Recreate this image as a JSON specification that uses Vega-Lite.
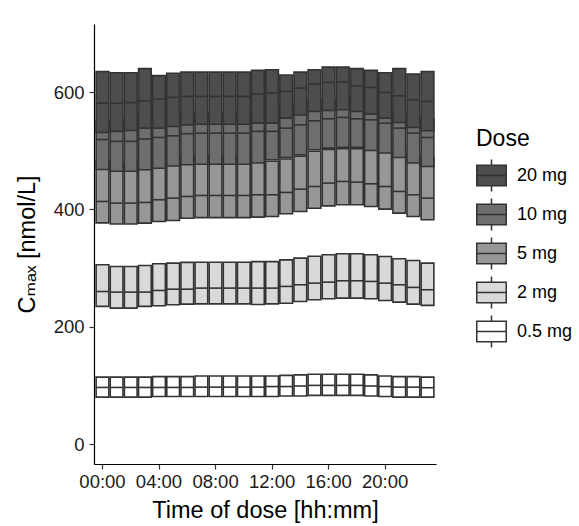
{
  "$schema": "https://vega.github.io/schema/vega-lite/v6.json",
  "autosize": "none",
  "width": 342,
  "height": 440,
  "padding": {"left": 94, "top": 24, "right": 143, "bottom": 62},
  "background": "white",
  "config": {
    "font": "Liberation Sans, Arial, DejaVu Sans, sans-serif",
    "view": {"stroke": null}
  },
  "data": {"values": [
    {"t":"00:00","dose":"0.5 mg","lo":80,"mid":96.5,"hi":114},
    {"t":"01:00","dose":"0.5 mg","lo":80,"mid":96.5,"hi":114},
    {"t":"02:00","dose":"0.5 mg","lo":80,"mid":96.5,"hi":114},
    {"t":"03:00","dose":"0.5 mg","lo":80,"mid":96.5,"hi":114},
    {"t":"04:00","dose":"0.5 mg","lo":81,"mid":96.5,"hi":115},
    {"t":"05:00","dose":"0.5 mg","lo":81,"mid":96.5,"hi":115},
    {"t":"06:00","dose":"0.5 mg","lo":81,"mid":96.5,"hi":115},
    {"t":"07:00","dose":"0.5 mg","lo":81,"mid":97,"hi":116},
    {"t":"08:00","dose":"0.5 mg","lo":81,"mid":97,"hi":116},
    {"t":"09:00","dose":"0.5 mg","lo":81,"mid":97,"hi":116},
    {"t":"10:00","dose":"0.5 mg","lo":81,"mid":97,"hi":116},
    {"t":"11:00","dose":"0.5 mg","lo":81,"mid":97,"hi":116},
    {"t":"12:00","dose":"0.5 mg","lo":81,"mid":98,"hi":116},
    {"t":"13:00","dose":"0.5 mg","lo":82,"mid":98,"hi":117},
    {"t":"14:00","dose":"0.5 mg","lo":82,"mid":99,"hi":118},
    {"t":"15:00","dose":"0.5 mg","lo":83,"mid":100,"hi":119},
    {"t":"16:00","dose":"0.5 mg","lo":83,"mid":100,"hi":119},
    {"t":"17:00","dose":"0.5 mg","lo":83,"mid":100,"hi":119},
    {"t":"18:00","dose":"0.5 mg","lo":83,"mid":100,"hi":119},
    {"t":"19:00","dose":"0.5 mg","lo":82,"mid":99,"hi":118},
    {"t":"20:00","dose":"0.5 mg","lo":81,"mid":98,"hi":116},
    {"t":"21:00","dose":"0.5 mg","lo":80,"mid":97,"hi":115},
    {"t":"22:00","dose":"0.5 mg","lo":80,"mid":97,"hi":115},
    {"t":"23:00","dose":"0.5 mg","lo":80,"mid":96,"hi":114},

    {"t":"00:00","dose":"2 mg","lo":234.6,"mid":260,"hi":305.6},
    {"t":"01:00","dose":"2 mg","lo":231.7,"mid":259,"hi":302.7},
    {"t":"02:00","dose":"2 mg","lo":231.7,"mid":259,"hi":302.7},
    {"t":"03:00","dose":"2 mg","lo":234.6,"mid":259,"hi":304.4},
    {"t":"04:00","dose":"2 mg","lo":235.7,"mid":261.8,"hi":307.3},
    {"t":"05:00","dose":"2 mg","lo":237.4,"mid":264,"hi":308.4},
    {"t":"06:00","dose":"2 mg","lo":238.5,"mid":264,"hi":309.6},
    {"t":"07:00","dose":"2 mg","lo":239,"mid":265.8,"hi":310},
    {"t":"08:00","dose":"2 mg","lo":239,"mid":265.8,"hi":310},
    {"t":"09:00","dose":"2 mg","lo":239,"mid":265.8,"hi":310},
    {"t":"10:00","dose":"2 mg","lo":239,"mid":265.8,"hi":310},
    {"t":"11:00","dose":"2 mg","lo":238,"mid":265.8,"hi":311},
    {"t":"12:00","dose":"2 mg","lo":239,"mid":265.8,"hi":311},
    {"t":"13:00","dose":"2 mg","lo":240,"mid":268.7,"hi":314},
    {"t":"14:00","dose":"2 mg","lo":243,"mid":271.5,"hi":317},
    {"t":"15:00","dose":"2 mg","lo":246,"mid":274.3,"hi":320},
    {"t":"16:00","dose":"2 mg","lo":247.6,"mid":276,"hi":322.6},
    {"t":"17:00","dose":"2 mg","lo":248.8,"mid":278.3,"hi":324.3},
    {"t":"18:00","dose":"2 mg","lo":248.8,"mid":278.3,"hi":324.3},
    {"t":"19:00","dose":"2 mg","lo":247.6,"mid":277.2,"hi":322.6},
    {"t":"20:00","dose":"2 mg","lo":244.8,"mid":274.3,"hi":319.8},
    {"t":"21:00","dose":"2 mg","lo":242,"mid":271.5,"hi":315.8},
    {"t":"22:00","dose":"2 mg","lo":238.5,"mid":267,"hi":313},
    {"t":"23:00","dose":"2 mg","lo":236.3,"mid":263,"hi":308.4},

    {"t":"00:00","dose":"5 mg","lo":377,"mid":413.5,"hi":483},
    {"t":"01:00","dose":"5 mg","lo":375,"mid":410.7,"hi":480},
    {"t":"02:00","dose":"5 mg","lo":375,"mid":410.7,"hi":480},
    {"t":"03:00","dose":"5 mg","lo":376.6,"mid":411.8,"hi":482},
    {"t":"04:00","dose":"5 mg","lo":379.4,"mid":416.4,"hi":485},
    {"t":"05:00","dose":"5 mg","lo":381,"mid":419.2,"hi":489},
    {"t":"06:00","dose":"5 mg","lo":385,"mid":422,"hi":491},
    {"t":"07:00","dose":"5 mg","lo":386,"mid":423.7,"hi":492},
    {"t":"08:00","dose":"5 mg","lo":386,"mid":423.7,"hi":492},
    {"t":"09:00","dose":"5 mg","lo":386,"mid":423.7,"hi":492},
    {"t":"10:00","dose":"5 mg","lo":386,"mid":423.7,"hi":492},
    {"t":"11:00","dose":"5 mg","lo":386.8,"mid":424.9,"hi":494},
    {"t":"12:00","dose":"5 mg","lo":387.9,"mid":424.9,"hi":482},
    {"t":"13:00","dose":"5 mg","lo":392.5,"mid":428.9,"hi":486},
    {"t":"14:00","dose":"5 mg","lo":396.5,"mid":434.5,"hi":490.5},
    {"t":"15:00","dose":"5 mg","lo":402,"mid":439,"hi":499},
    {"t":"16:00","dose":"5 mg","lo":406,"mid":444.8,"hi":502},
    {"t":"17:00","dose":"5 mg","lo":407.8,"mid":447.6,"hi":503.5},
    {"t":"18:00","dose":"5 mg","lo":407.8,"mid":446.5,"hi":503.5},
    {"t":"19:00","dose":"5 mg","lo":405,"mid":443.6,"hi":515},
    {"t":"20:00","dose":"5 mg","lo":400.5,"mid":439,"hi":511},
    {"t":"21:00","dose":"5 mg","lo":393.6,"mid":430.6,"hi":503},
    {"t":"22:00","dose":"5 mg","lo":387.9,"mid":424.9,"hi":494},
    {"t":"23:00","dose":"5 mg","lo":382.3,"mid":419.2,"hi":488},

    {"t":"00:00","dose":"10 mg","lo":468,"mid":519,"hi":551},
    {"t":"01:00","dose":"10 mg","lo":465,"mid":516,"hi":553},
    {"t":"02:00","dose":"10 mg","lo":465,"mid":516,"hi":554},
    {"t":"03:00","dose":"10 mg","lo":467.5,"mid":520,"hi":558},
    {"t":"04:00","dose":"10 mg","lo":470,"mid":522.6,"hi":558},
    {"t":"05:00","dose":"10 mg","lo":474,"mid":525.4,"hi":561},
    {"t":"06:00","dose":"10 mg","lo":476,"mid":529,"hi":564},
    {"t":"07:00","dose":"10 mg","lo":477,"mid":530,"hi":565},
    {"t":"08:00","dose":"10 mg","lo":477,"mid":530,"hi":565},
    {"t":"09:00","dose":"10 mg","lo":477,"mid":530,"hi":565},
    {"t":"10:00","dose":"10 mg","lo":477,"mid":530,"hi":565},
    {"t":"11:00","dose":"10 mg","lo":479,"mid":533,"hi":567},
    {"t":"12:00","dose":"10 mg","lo":484.5,"mid":533,"hi":567},
    {"t":"13:00","dose":"10 mg","lo":488.5,"mid":538.5,"hi":575},
    {"t":"14:00","dose":"10 mg","lo":493,"mid":544,"hi":581},
    {"t":"15:00","dose":"10 mg","lo":501.6,"mid":551,"hi":587},
    {"t":"16:00","dose":"10 mg","lo":504.4,"mid":554.4,"hi":588},
    {"t":"17:00","dose":"10 mg","lo":506,"mid":556.7,"hi":590},
    {"t":"18:00","dose":"10 mg","lo":506,"mid":554.4,"hi":587},
    {"t":"19:00","dose":"10 mg","lo":500.4,"mid":552.7,"hi":582},
    {"t":"20:00","dose":"10 mg","lo":496,"mid":547,"hi":575},
    {"t":"21:00","dose":"10 mg","lo":488.5,"mid":538.5,"hi":568},
    {"t":"22:00","dose":"10 mg","lo":479,"mid":530,"hi":560},
    {"t":"23:00","dose":"10 mg","lo":473,"mid":522.6,"hi":554},

    {"t":"00:00","dose":"20 mg","lo":531,"mid":581,"hi":635},
    {"t":"01:00","dose":"20 mg","lo":533,"mid":581,"hi":633},
    {"t":"02:00","dose":"20 mg","lo":534.5,"mid":582,"hi":633},
    {"t":"03:00","dose":"20 mg","lo":538.5,"mid":585,"hi":640},
    {"t":"04:00","dose":"20 mg","lo":538.5,"mid":588,"hi":628},
    {"t":"05:00","dose":"20 mg","lo":541.4,"mid":591,"hi":632},
    {"t":"06:00","dose":"20 mg","lo":544,"mid":592.5,"hi":634},
    {"t":"07:00","dose":"20 mg","lo":545,"mid":592.5,"hi":634},
    {"t":"08:00","dose":"20 mg","lo":545,"mid":592.5,"hi":634},
    {"t":"09:00","dose":"20 mg","lo":545,"mid":592.5,"hi":634},
    {"t":"10:00","dose":"20 mg","lo":545,"mid":592.5,"hi":634},
    {"t":"11:00","dose":"20 mg","lo":547,"mid":596.5,"hi":637},
    {"t":"12:00","dose":"20 mg","lo":547,"mid":598,"hi":638},
    {"t":"13:00","dose":"20 mg","lo":555.6,"mid":601,"hi":629},
    {"t":"14:00","dose":"20 mg","lo":561,"mid":606.7,"hi":634},
    {"t":"15:00","dose":"20 mg","lo":567,"mid":613.5,"hi":638},
    {"t":"16:00","dose":"20 mg","lo":568.6,"mid":616.4,"hi":642.5},
    {"t":"17:00","dose":"20 mg","lo":569.8,"mid":617,"hi":642.5},
    {"t":"18:00","dose":"20 mg","lo":567,"mid":610.7,"hi":640},
    {"t":"19:00","dose":"20 mg","lo":562.4,"mid":607.8,"hi":637},
    {"t":"20:00","dose":"20 mg","lo":555.6,"mid":599.3,"hi":633},
    {"t":"21:00","dose":"20 mg","lo":548.2,"mid":593.6,"hi":640},
    {"t":"22:00","dose":"20 mg","lo":539.7,"mid":586.8,"hi":630.6},
    {"t":"23:00","dose":"20 mg","lo":534,"mid":584,"hi":635}
  ]},
  "encoding": {
    "x": {
      "field": "t", "type": "ordinal",
      "scale": {"paddingInner": 0.1, "paddingOuter": 0.15},
      "axis": {
        "title": "Time of dose [hh:mm]",
        "values": ["00:00","04:00","08:00","12:00","16:00","20:00"],
        "labelAngle": 0,
        "labelFontSize": 18.5, "labelColor": "#1a1a1a", "labelPadding": 3,
        "tickSize": 5, "tickColor": "#333", "tickWidth": 1.2,
        "domainColor": "#000", "domainWidth": 1.2,
        "titleFontSize": 23.5, "titleFontWeight": "normal", "titleColor": "#000", "titlePadding": 8
      }
    }
  },
  "layer": [
    {
      "mark": {"type": "bar", "stroke": "#333333", "strokeWidth": 1.6},
      "encoding": {
        "y": {
          "field": "lo", "type": "quantitative", "stack": null,
          "scale": {"domain": [-34, 716], "nice": false, "zero": false},
          "axis": {
            "title": "Cₘₐₓ [nmol/L]",
            "values": [0, 200, 400, 600],
            "grid": false,
            "labelFontSize": 18.5, "labelColor": "#1a1a1a", "labelPadding": 5,
            "tickSize": 5, "tickColor": "#333", "tickWidth": 1.2,
            "domainColor": "#000", "domainWidth": 1.2,
            "titleFontSize": 23.5, "titleFontWeight": "normal", "titleColor": "#000", "titlePadding": 14
          }
        },
        "y2": {"field": "hi"},
        "fill": {
          "field": "dose", "type": "nominal",
          "scale": {
            "domain": ["20 mg","10 mg","5 mg","2 mg","0.5 mg"],
            "range": ["#4d4d4d","#6e6e6e","#979797","#d9d9d9","#ffffff"]
          },
          "legend": {
            "title": "Dose",
            "orient": "none", "legendX": 382, "legendY": 104,
            "titleFontSize": 23, "titleFontWeight": "normal", "titleColor": "#000", "titlePadding": 9,
            "labelFontSize": 18, "labelColor": "#000", "labelOffset": 10,
            "symbolType": "M-1,-0.7H1V0.7H-1Z M-1,0H1 M0,-0.7V-1.08 M0,0.7V1.08",
            "symbolSize": 870, "symbolStrokeColor": "#333333", "symbolStrokeWidth": 1.5,
            "symbolOpacity": 1, "rowPadding": 0
          }
        }
      }
    },
    {
      "mark": {"type": "tick", "color": "#333333", "thickness": 1.6, "size": 12.7, "opacity": 1},
      "encoding": {
        "y": {"field": "mid", "type": "quantitative"}
      }
    }
  ]
}
